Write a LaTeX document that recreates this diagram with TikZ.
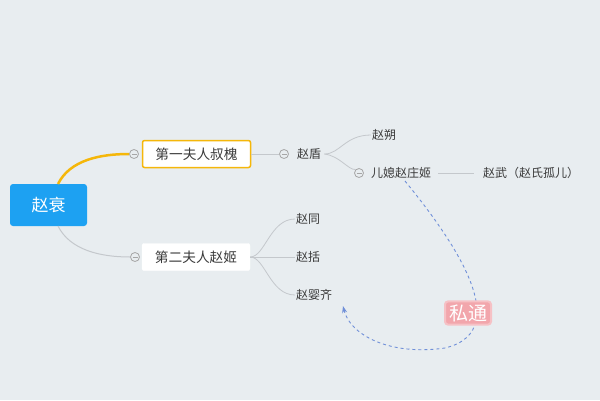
\documentclass[tikz,border=0pt]{standalone}
\usepackage{fontspec}
\newfontfamily\cjk{Noto Sans CJK SC}
\usetikzlibrary{arrows.meta}
\definecolor{bgcol}{HTML}{E8EDF0}
\definecolor{rootblue}{HTML}{1DA1F2}
\definecolor{linegray}{HTML}{C4C8CC}
\definecolor{gold}{HTML}{F5B70A}
\definecolor{txtgray}{HTML}{3A3A3A}
\definecolor{dashblue}{HTML}{6F8FD8}
\definecolor{pinkglow}{HTML}{F2A6AC}
\tikzset{
  topic/.style={draw=white, fill=white, rounded corners=2pt, minimum width=108pt, minimum height=27pt, inner sep=0pt, font=\cjk\fontsize{13.7}{14}\selectfont, text=txtgray},
  leaf/.style={anchor=west, inner sep=1pt, font=\cjk\fontsize{12}{12}\selectfont, text=txtgray},
  fold/.style={circle, draw=gray!70, fill=bgcol, line width=0.8pt, minimum size=9pt, inner sep=0pt,
    path picture={\draw[gray!70, line width=0.8pt] ([xshift=-2.5pt]path picture bounding box.center) -- ([xshift=2.5pt]path picture bounding box.center);}},
  twig/.style={linegray, line width=0.8pt}
}
\begin{document}
\begin{tikzpicture}[x=1pt, y=-1pt]
  \fill[bgcol] (0,0) rectangle (600,400);
  \useasboundingbox (0,0) rectangle (600,400);

  \node[fill=rootblue, rounded corners=3pt, minimum width=77pt, minimum height=42pt, text=white, font=\cjk\fontsize{17}{17}\selectfont] (zs) at (48.5,205) {赵衰};

  \node[topic, draw=gold, line width=1.5pt] (wife1) at (196.5,154) {第一夫人叔槐};
  \node[topic] (wife2) at (196,257) {第二夫人赵姬};
  \node[fold] (c1) at (134,154) {};
  \node[fold] (c2) at (135,257) {};

  \draw[gold, line width=2.5pt] (58,184) .. controls (70,160) and (100,154) .. (c1.west);
  \draw[twig, line width=1pt] (58,226) .. controls (70,250) and (100,257) .. (c2.west);

  % first wife line
  \node[fold] (c3) at (284,154) {};
  \node[leaf] (dun) at (296,154) {赵盾};
  \draw[twig] (wife1.east) -- (c3.west);
  \node[leaf] (shuo) at (371,135) {赵朔};
  \node[fold] (c4) at (359,173) {};
  \node[leaf] (zhuangji) at (370,173) {儿媳赵庄姬};
  \draw[twig] (dun.east) ++(2,0) coordinate (d1) .. controls (340,154) and (345,135) .. (shuo.west);
  \draw[twig] (d1) .. controls (340,156) and (348,170) .. (c4.north west);
  \node[leaf] (wu) at (482,173) {赵武（赵氏孤儿）};
  \draw[twig] (zhuangji.east) ++(6,0) -- ([xshift=-8pt]wu.west);

  % second wife line
  \node[leaf] (tong) at (295,219) {赵同};
  \node[leaf] (kuo) at (295,257) {赵括};
  \node[leaf] (yingqi) at (295,295) {赵婴齐};
  \draw[twig] (wife2.east) .. controls (265,257) and (270,219) .. (tong.west);
  \draw[twig] (wife2.east) -- (kuo.west);
  \draw[twig] (wife2.east) .. controls (265,257) and (270,295) .. (yingqi.west);

  % affair
  \draw[dashblue, line width=0.9pt, dashed, -{Stealth[length=7pt, width=5pt]}]
    (405,181) .. controls (445,230) and (520,330) .. (445,348)
    .. controls (390,356) and (350,335) .. (343,306);
  \node[fill=pinkglow, draw=pinkglow!70, line width=2pt, rounded corners=3pt, inner xsep=4pt, inner ysep=3pt, text=white, font=\cjk\fontsize{19}{19}\selectfont] (affair) at (468,313) {私通};
\end{tikzpicture}
\end{document}
